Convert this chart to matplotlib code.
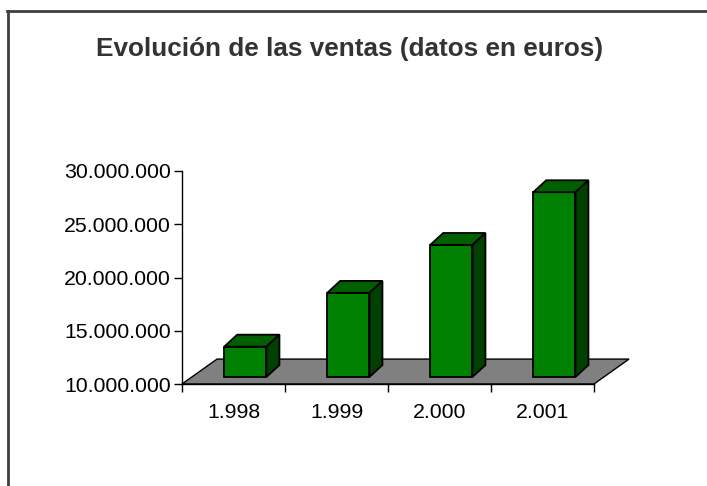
import matplotlib
matplotlib.use("Agg")
import matplotlib.pyplot as plt
from matplotlib.patches import Polygon, Rectangle
from matplotlib.ticker import FuncFormatter

plt.rcParams["font.family"] = ["Liberation Sans", "DejaVu Sans"]

# data
years = ["1.998", "1.999", "2.000", "2.001"]
ventas = [12_850_000, 17_900_000, 22_400_000, 27_350_000]
y_ticks = [10_000_000, 15_000_000, 20_000_000, 25_000_000, 30_000_000]
title = "Evolución de las ventas (datos en euros)"

FRONT = "#008000"
TOP = "#006000"
SIDE = "#004000"
FLOOR = "#808080"

fig = plt.figure(figsize=(7.07, 4.86), dpi=100)
ax = fig.add_axes([182 / 707, 1 - 384 / 486, 412 / 707, 213 / 486])
ax.set_xlim(-0.5, len(years) - 0.5)
ax.set_ylim(y_ticks[0], y_ticks[-1])
yspan = y_ticks[-1] - y_ticks[0]

# 3d-ish offsets in data units (floor depth, bar depth, bar placement)
fdx, fdy = 0.34, 0.117 * yspan
bdx, bdy = 0.126, 0.056 * yspan
base = y_ticks[0] + 0.033 * yspan
bshift, bw = 0.115, 0.41

x0, x1 = ax.get_xlim()
y0 = y_ticks[0]
ax.add_patch(Polygon([(x0, y0), (x1, y0), (x1 + fdx, y0 + fdy), (x0 + fdx, y0 + fdy)],
                     closed=True, facecolor=FLOOR, edgecolor="black", lw=1.0,
                     clip_on=False, zorder=1))

for i, v in enumerate(ventas):
    left = i + bshift - bw / 2
    right = left + bw
    ax.add_patch(Rectangle((left, base), bw, v - y0, facecolor=FRONT,
                           edgecolor="black", lw=1.3, clip_on=False, zorder=3))
    top = base + v - y0
    ax.add_patch(Polygon([(left, top), (right, top), (right + bdx, top + bdy), (left + bdx, top + bdy)],
                         closed=True, facecolor=TOP, edgecolor="black", lw=1.3,
                         clip_on=False, zorder=3))
    ax.add_patch(Polygon([(right, base), (right + bdx, base + bdy), (right + bdx, top + bdy), (right, top)],
                         closed=True, facecolor=SIDE, edgecolor="black", lw=1.3,
                         clip_on=False, zorder=3))

ax.set_facecolor("none")
for s in ("top", "right"):
    ax.spines[s].set_visible(False)
ax.spines["left"].set_linewidth(1.0)
ax.spines["bottom"].set_linewidth(1.0)
ax.spines["bottom"].set_zorder(2)

ax.set_yticks(y_ticks)
ax.yaxis.set_major_formatter(FuncFormatter(lambda v, _: f"{v:,.0f}".replace(",", ".")))
ax.tick_params(axis="y", length=6, width=1, pad=2, labelsize=15.3, colors="black")

ax.set_xticks(range(len(years)))
ax.set_xticklabels(years)
ax.set_xticks([i - 0.5 for i in range(len(years) + 1)], minor=True)
ax.tick_params(axis="x", which="major", length=0, pad=14, labelsize=15.3)
ax.tick_params(axis="x", which="minor", length=6, width=1)

fig.text(350 / 707, 1 - 49 / 486, title, ha="center", va="center",
         fontsize=18.8, fontweight="bold", color="#333333")

# chart frame (only top and left visible in the crop)
fig.add_artist(plt.Line2D([8 / 707, 8 / 707], [0, 1 - 11 / 486], transform=fig.transFigure,
                          color="#404040", lw=2.0))
fig.add_artist(plt.Line2D([7 / 707, 1], [1 - 11 / 486, 1 - 11 / 486], transform=fig.transFigure,
                          color="#404040", lw=2.0))

fig.savefig("out.png", dpi=100, facecolor="white")
